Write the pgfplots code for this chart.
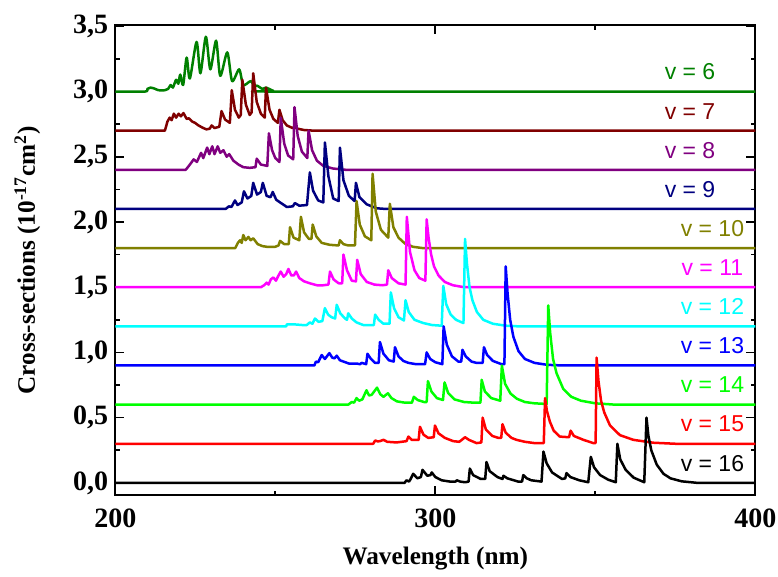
\documentclass[border=0pt]{standalone}
\usepackage{fontspec}
\setmainfont{Liberation Serif}
\newfontfamily\lsans{Liberation Sans}
\usepackage{pgfplots}
\pgfplotsset{compat=1.18}
\definecolor{cv6}{RGB}{0,128,0}
\definecolor{cv7}{RGB}{128,0,0}
\definecolor{cv8}{RGB}{128,0,128}
\definecolor{cv9}{RGB}{0,0,128}
\definecolor{cv10}{RGB}{128,128,0}
\definecolor{cv11}{RGB}{255,0,255}
\definecolor{cv12}{RGB}{0,255,255}
\definecolor{cv13}{RGB}{0,0,255}
\definecolor{cv14}{RGB}{0,255,0}
\definecolor{cv15}{RGB}{255,0,0}
\definecolor{cv16}{RGB}{0,0,0}
\begin{document}
\begin{tikzpicture}
\begin{axis}[
  scale only axis,
  width=320pt, height=235.15pt,
  xmin=200, xmax=400, ymin=-0.095, ymax=3.51,
  axis line style={line width=1pt},
  tick style={line width=0.8pt, black},
  major tick length=4.5pt, minor tick length=2.3pt,
  tick align=inside, tick pos=both,
  xtick={200,300,400}, xticklabels={200,300,400},
  minor xtick={250,350},
  ytick={0,0.5,1,1.5,2,2.5,3,3.5},
  yticklabels={{0,0},{0,5},{1,0},{1,5},{2,0},{2,5},{3,0},{3,5}},
  minor ytick={0.25,0.75,1.25,1.75,2.25,2.75,3.25},
  ticklabel style={font=\bfseries\fontsize{14}{14}\selectfont},
  xticklabel style={yshift=-3.5pt},
  xlabel={Wavelength (nm)},
  ylabel={Cross-sections (10\textsuperscript{-17}cm\textsuperscript{2})},
  label style={font=\bfseries\fontsize{12.6}{14}\selectfont},
  xlabel style={at={(axis description cs:0.5,-0.134)}, anchor=center},
  ylabel style={at={(axis description cs:-0.1375,0.5)}, anchor=center},
  every axis plot/.append style={line width=1.25pt, line join=round, no markers},
  clip=true,
]
% v = 6
\addplot[cv6, smooth, tension=0.45] table[x=x, y expr=\thisrow{h}+3.0, row sep=\\] {
x h\\ 200 0\\ 209.3 0\\ 210 0.02\\ 211 0.03\\ 212 0.025\\ 213.5 0.01\\ 215.5 0.01\\ 216.5 0.02\\ 217.3 0.05\\ 218 0.03\\ 219 0.09\\ 219.7 0.06\\ 220.3 0.13\\ 221.2 0.05\\ 222.3 0.26\\ 223.3 0.10\\ 225.4 0.38\\ 226.6 0.14\\ 228.3 0.42\\ 229.7 0.17\\ 231.5 0.39\\ 232.8 0.12\\ 235 0.30\\ 236.5 0.08\\ 238.7 0.17\\ 240 0.05\\ 242.3 0.08\\ 243.4 0.04\\ 244.3 0.045\\ 246 0.02\\ 247.1 0.03\\ 249.4 0.005\\ 251.5 0\\ 400 0\\
};
% v = 7
\addplot[cv7] table[x=x, y expr=\thisrow{h}+2.7, row sep=\\] {
x h\\ 200 0\\ 215.5 0\\ 216.3 0.07\\ 217 0.10\\ 217.6 0.08\\ 218.3 0.13\\ 219 0.10\\ 219.8 0.13\\ 220.5 0.11\\ 221.3 0.135\\ 222.3 0.09\\ 223 0.095\\ 224 0.07\\ 224.9 0.06\\ 226 0.04\\ 227.5 0.02\\ 228.5 0.01\\ 229.5 0.015\\ 230.1 0.04\\ 231 0.02\\ 232.5 0.03\\ 233.2 0.15\\ 234.3 0.085\\ 235.8 0.06\\ 236.4 0.31\\ 237.4 0.16\\ 238.6 0.10\\ 239.2 0.12\\ 239.7 0.39\\ 240.8 0.20\\ 242 0.12\\ 242.6 0.14\\ 243.1 0.44\\ 244.2 0.22\\ 245.5 0.13\\ 246.7 0.10\\ 247.1 0.33\\ 248.2 0.16\\ 249.4 0.09\\ 250.8 0.06\\ 251.3 0.16\\ 252.3 0.08\\ 253.6 0.04\\ 255.4 0.02\\ 255.9 0.03\\ 257 0.015\\ 259 0.005\\ 262 0\\ 400 0\\
};
% v = 8
\addplot[cv8] table[x=x, y expr=\thisrow{h}+2.4, row sep=\\] {
x h\\ 200 0\\ 222 0\\ 223 0.03\\ 224.5 0.08\\ 225.5 0.06\\ 226.8 0.13\\ 227.5 0.09\\ 228.7 0.17\\ 229.4 0.12\\ 230.3 0.18\\ 231 0.12\\ 232 0.18\\ 232.8 0.13\\ 233.8 0.15\\ 234.8 0.10\\ 235.6 0.12\\ 236.9 0.07\\ 238.5 0.04\\ 240 0.02\\ 242 0.015\\ 243.8 0.02\\ 244.2 0.085\\ 245.5 0.04\\ 247.5 0.03\\ 248 0.28\\ 249 0.15\\ 250 0.09\\ 251.3 0.06\\ 251.7 0.40\\ 252.8 0.20\\ 254 0.11\\ 255.6 0.08\\ 256 0.48\\ 257 0.26\\ 258.3 0.14\\ 260 0.09\\ 260.4 0.30\\ 261.5 0.15\\ 263 0.07\\ 265 0.03\\ 268 0.01\\ 272 0\\ 400 0\\
};
% v = 9
\addplot[cv9] table[x=x, y expr=\thisrow{h}+2.1, row sep=\\] {
x h\\ 200 0\\ 234.5 0\\ 235.5 0.02\\ 236.3 0.015\\ 237.4 0.065\\ 238.2 0.03\\ 239.5 0.05\\ 240.2 0.135\\ 241.3 0.08\\ 242.5 0.10\\ 243.1 0.20\\ 244.3 0.11\\ 245.5 0.13\\ 246.1 0.20\\ 247.3 0.10\\ 248.5 0.09\\ 249.2 0.13\\ 250.3 0.07\\ 251.5 0.05\\ 253.6 0.015\\ 255.5 0.02\\ 256.1 0.045\\ 257.5 0.025\\ 259.9 0.03\\ 260.8 0.28\\ 261.8 0.14\\ 263.4 0.065\\ 265 0.05\\ 265.5 0.51\\ 266.6 0.25\\ 268.1 0.08\\ 269.8 0.06\\ 270.2 0.47\\ 271.3 0.22\\ 273 0.10\\ 274.8 0.06\\ 275.2 0.20\\ 276.3 0.09\\ 278.6 0.035\\ 281.7 0.005\\ 284.5 0\\ 400 0\\
};
% v = 10
\addplot[cv10] table[x=x, y expr=\thisrow{h}+1.8, row sep=\\] {
x h\\ 200 0\\ 237.5 0\\ 238.3 0.04\\ 239 0.06\\ 239.5 0.04\\ 240 0.10\\ 240.7 0.06\\ 241.6 0.085\\ 242.3 0.06\\ 243.1 0.075\\ 244.5 0.03\\ 246 0.015\\ 247.3 0.01\\ 250 0.01\\ 251 0.02\\ 251.5 0.055\\ 252.8 0.03\\ 254.2 0.03\\ 254.6 0.16\\ 255.7 0.08\\ 257.5 0.06\\ 258 0.24\\ 259 0.12\\ 260.5 0.07\\ 261.3 0.07\\ 261.7 0.18\\ 262.8 0.09\\ 264.5 0.04\\ 267 0.025\\ 269.8 0.02\\ 270.2 0.06\\ 271.3 0.03\\ 272.8 0.02\\ 274.9 0.02\\ 275.4 0.36\\ 276.4 0.18\\ 278 0.09\\ 280 0.06\\ 280.4 0.57\\ 281.4 0.28\\ 283 0.14\\ 285.3 0.08\\ 285.8 0.34\\ 286.9 0.16\\ 288.5 0.08\\ 290.5 0.035\\ 293 0.01\\ 296 0\\ 400 0\\
};
% v = 11
\addplot[cv11] table[x=x, y expr=\thisrow{h}+1.5, row sep=\\] {
x h\\ 200 0\\ 245.5 0\\ 246.5 0.015\\ 247.3 0.035\\ 247.9 0.02\\ 248.6 0.06\\ 249.4 0.075\\ 250.2 0.05\\ 251 0.09\\ 251.7 0.12\\ 252.6 0.08\\ 253.4 0.10\\ 254.1 0.14\\ 255 0.09\\ 255.8 0.09\\ 256.5 0.12\\ 257.5 0.07\\ 259 0.045\\ 260.8 0.03\\ 263 0.015\\ 265 0.015\\ 266.6 0.02\\ 267.1 0.12\\ 268.2 0.06\\ 269.8 0.03\\ 270.9 0.03\\ 271.3 0.25\\ 272.4 0.13\\ 273.9 0.05\\ 275.2 0.045\\ 275.6 0.21\\ 276.7 0.10\\ 278.6 0.04\\ 281 0.02\\ 283.5 0.015\\ 284.9 0.02\\ 285.3 0.13\\ 286.4 0.07\\ 288.5 0.03\\ 290.7 0.02\\ 291.1 0.54\\ 292.1 0.27\\ 293.5 0.13\\ 295 0.07\\ 296.9 0.05\\ 297.3 0.52\\ 297.9 0.38\\ 298.7 0.25\\ 299.6 0.16\\ 301 0.09\\ 303 0.04\\ 305.5 0.015\\ 309 0\\ 400 0\\
};
% v = 12
\addplot[cv12] table[x=x, y expr=\thisrow{h}+1.2, row sep=\\] {
x h\\ 200 0\\ 253.4 0\\ 253.6 0.015\\ 256 0.015\\ 258.5 0.01\\ 259.8 0.01\\ 260.8 0.03\\ 261.6 0.02\\ 262.4 0.06\\ 263.5 0.035\\ 264.7 0.04\\ 265.5 0.14\\ 266.5 0.09\\ 267.6 0.07\\ 268.7 0.06\\ 269.2 0.165\\ 270.3 0.10\\ 271.8 0.06\\ 272.4 0.05\\ 272.8 0.10\\ 273.9 0.06\\ 275.4 0.03\\ 277.5 0.01\\ 280.8 0.01\\ 281.2 0.09\\ 282.3 0.05\\ 283.8 0.02\\ 285.7 0.02\\ 286.1 0.26\\ 287.1 0.14\\ 288.5 0.07\\ 290.2 0.045\\ 290.7 0.20\\ 291.7 0.11\\ 293.5 0.05\\ 296.3 0.025\\ 299 0.01\\ 302 0.005\\ 302.5 0.31\\ 303.4 0.17\\ 304.8 0.09\\ 306.5 0.05\\ 308.8 0.025\\ 309.3 0.67\\ 309.9 0.48\\ 310.7 0.30\\ 311.6 0.20\\ 313 0.11\\ 315 0.05\\ 318 0.02\\ 322 0.005\\ 326 0\\ 400 0\\
};
% v = 13
\addplot[cv13] table[x=x, y expr=\thisrow{h}+0.9, row sep=\\] {
x h\\ 200 0\\ 262.2 0\\ 262.7 0.03\\ 263.4 0.025\\ 264.5 0.08\\ 265.5 0.05\\ 266.9 0.095\\ 267.8 0.06\\ 268.5 0.055\\ 269.2 0.075\\ 270.2 0.04\\ 271.3 0.03\\ 273 0.015\\ 275.4 0.015\\ 276.5 0.01\\ 277 0.02\\ 278.4 0.01\\ 278.8 0.09\\ 279.9 0.05\\ 281.2 0.02\\ 282.3 0.02\\ 282.7 0.18\\ 283.8 0.09\\ 285.5 0.04\\ 287 0.03\\ 287.4 0.14\\ 288.5 0.07\\ 290 0.035\\ 291.6 0.02\\ 294 0.01\\ 296.8 0.01\\ 297.3 0.10\\ 298.4 0.05\\ 300 0.025\\ 302.2 0.01\\ 302.6 0.30\\ 303.6 0.16\\ 305.2 0.07\\ 307.2 0.03\\ 308.1 0.03\\ 308.5 0.12\\ 309.5 0.07\\ 311.3 0.03\\ 312.9 0.02\\ 314.8 0.02\\ 315.2 0.14\\ 316.2 0.08\\ 318 0.035\\ 320.7 0.01\\ 321.6 0.01\\ 322 0.76\\ 322.6 0.55\\ 323.4 0.35\\ 324.4 0.22\\ 326 0.11\\ 328 0.05\\ 331 0.02\\ 335 0.005\\ 340 0\\ 400 0\\
};
% v = 14
\addplot[cv14] table[x=x, y expr=\thisrow{h}+0.6, row sep=\\] {
x h\\ 200 0\\ 272.8 0\\ 273.9 0.02\\ 274.6 0.015\\ 275.4 0.05\\ 276.2 0.03\\ 277.2 0.04\\ 278.5 0.11\\ 279.3 0.07\\ 280.1 0.075\\ 281.8 0.13\\ 282.8 0.08\\ 283.8 0.06\\ 285.2 0.087\\ 286.3 0.05\\ 288 0.025\\ 290.5 0.015\\ 292.7 0.015\\ 293.3 0.06\\ 294.5 0.035\\ 296.5 0.02\\ 297.3 0.02\\ 297.7 0.18\\ 298.8 0.10\\ 300.5 0.05\\ 302.4 0.035\\ 302.9 0.17\\ 304 0.09\\ 306 0.04\\ 309 0.02\\ 312 0.015\\ 314.1 0.015\\ 314.5 0.19\\ 315.5 0.10\\ 317.5 0.05\\ 320.3 0.03\\ 320.8 0.30\\ 321.8 0.16\\ 323.5 0.085\\ 325.5 0.045\\ 328 0.02\\ 331 0.01\\ 334.8 0.005\\ 335.3 0.76\\ 335.9 0.55\\ 336.8 0.35\\ 337.9 0.24\\ 340 0.12\\ 342.5 0.06\\ 345.5 0.03\\ 350 0.01\\ 356 0\\ 400 0\\
};
% v = 15
\addplot[cv15] table[x=x, y expr=\thisrow{h}+0.3, row sep=\\] {
x h\\ 200 0\\ 280.6 0\\ 281.2 0.025\\ 282 0.018\\ 282.7 0.02\\ 283.8 0.03\\ 285 0.015\\ 287.9 0.01\\ 291 0.02\\ 291.6 0.055\\ 292.6 0.03\\ 294.8 0.03\\ 295.2 0.13\\ 296.3 0.07\\ 297.8 0.045\\ 299.5 0.05\\ 299.9 0.14\\ 301 0.08\\ 303 0.045\\ 305.6 0.02\\ 307.5 0.015\\ 309.3 0.05\\ 310.5 0.03\\ 312.9 0.005\\ 314.4 0.01\\ 314.8 0.20\\ 315.8 0.11\\ 317.8 0.06\\ 319.7 0.045\\ 320.6 0.045\\ 321 0.15\\ 322 0.085\\ 323.8 0.045\\ 325.4 0.03\\ 328 0.015\\ 331 0.005\\ 333.9 0.005\\ 334.3 0.35\\ 334.9 0.25\\ 335.8 0.17\\ 337 0.10\\ 338.9 0.055\\ 341.8 0.05\\ 342.3 0.10\\ 343.3 0.06\\ 346.3 0.03\\ 349.4 0.005\\ 350.1 0.005\\ 350.4 0.66\\ 351 0.48\\ 351.8 0.33\\ 352.8 0.24\\ 354.6 0.14\\ 357.7 0.066\\ 361.9 0.03\\ 368.1 0.008\\ 375 0\\ 400 0\\
};
% v = 16
\addplot[cv16] table[x=x, y expr=\thisrow{h}+0.0, row sep=\\] {
x h\\ 200 0\\ 290.4 0\\ 291 0.02\\ 291.8 0.01\\ 292.3 0.03\\ 293.1 0.07\\ 294.4 0.035\\ 295.5 0.045\\ 296 0.10\\ 297.5 0.055\\ 298.5 0.06\\ 298.9 0.08\\ 300 0.045\\ 302 0.02\\ 304.6 0.01\\ 306.3 0.01\\ 306.7 0.02\\ 307.8 0.01\\ 309.3 0.005\\ 310.4 0.01\\ 310.8 0.11\\ 311.8 0.06\\ 314.2 0.03\\ 315.6 0.03\\ 316 0.16\\ 317 0.09\\ 319.4 0.045\\ 321 0.03\\ 321.3 0.055\\ 322.5 0.035\\ 325.9 0.01\\ 327.1 0.01\\ 327.5 0.06\\ 328.6 0.035\\ 330 0.02\\ 333.2 0.01\\ 333.8 0.24\\ 334.8 0.15\\ 336.5 0.08\\ 339.6 0.03\\ 340.6 0.035\\ 341 0.075\\ 342.2 0.045\\ 345 0.02\\ 347.8 0.005\\ 348.6 0.20\\ 349.6 0.12\\ 351.5 0.06\\ 354 0.025\\ 356.4 0.005\\ 356.9 0.30\\ 357.8 0.18\\ 359.5 0.10\\ 362 0.04\\ 365.3 0.005\\ 366 0.50\\ 366.6 0.36\\ 367.5 0.25\\ 369.2 0.14\\ 371.3 0.07\\ 373.5 0.035\\ 377 0.012\\ 382 0\\ 400 0\\
};
\begin{scope}[every node/.style={font=\lsans\fontsize{11.5}{12}\selectfont, inner sep=0pt}]
\node[text=cv6]  at (axis cs:379.6,3.15) {v = 6};
\node[text=cv7]  at (axis cs:379.6,2.85) {v = 7};
\node[text=cv8]  at (axis cs:379.6,2.55) {v = 8};
\node[text=cv9]  at (axis cs:379.6,2.25) {v = 9};
\node[text=cv10] at (axis cs:386.6,1.95) {v = 10};
\node[text=cv11] at (axis cs:386.6,1.65) {v = 11};
\node[text=cv12] at (axis cs:386.6,1.35) {v = 12};
\node[text=cv13] at (axis cs:386.6,1.05) {v = 13};
\node[text=cv14] at (axis cs:386.6,0.75) {v = 14};
\node[text=cv15] at (axis cs:386.6,0.45) {v = 15};
\node[text=cv16] at (axis cs:386.6,0.15) {v = 16};
\end{scope}
\end{axis}
\pgfresetboundingbox
\path (-57.65pt,-40.85pt) rectangle (331.35pt,247.65pt);
\end{tikzpicture}
\end{document}
